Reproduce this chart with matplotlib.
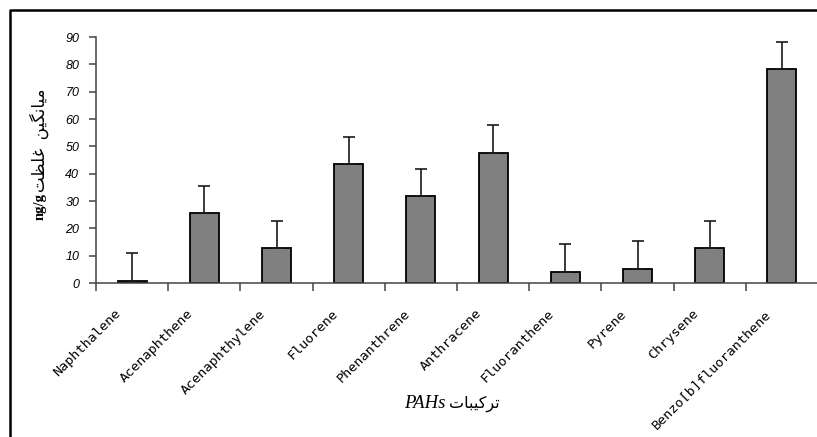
import matplotlib
matplotlib.use("Agg")
import matplotlib.pyplot as plt
from matplotlib.lines import Line2D
from matplotlib.transforms import ScaledTranslation
import numpy as np

# ---- data ----
compounds = ["Naphthalene", "Acenaphthene", "Acenaphthylene", "Fluorene",
             "Phenanthrene", "Anthracene", "Fluoranthene", "Pyrene",
             "Chrysene", "Benzo[b]fluoranthene"]
means = [0.6, 25.5, 12.9, 43.6, 32.0, 47.6, 4.0, 5.0, 12.9, 78.4]
errors = [10.4, 10.1, 9.7, 9.8, 9.7, 10.3, 10.2, 10.2, 9.7, 9.8]
yticks = [0, 10, 20, 30, 40, 50, 60, 70, 80, 90]
ylabel_fa = "میانگین غلظت"
ylabel_unit = "ng/g"
xlabel_fa = "ترکیبات"
xlabel_en = "PAHs"

# ---- minimal Arabic/Persian shaping (presentation forms) ----
FORMS = {
    "\u0645": ("\uFEE1", "\uFEE2", "\uFEE3", "\uFEE4"),
    "\u06CC": ("\uFBFC", "\uFBFD", "\uFBFE", "\uFBFF"),
    "\u0627": ("\uFE8D", "\uFE8E"),
    "\u0646": ("\uFEE5", "\uFEE6", "\uFEE7", "\uFEE8"),
    "\u06AF": ("\uFB92", "\uFB93", "\uFB94", "\uFB95"),
    "\u063A": ("\uFECD", "\uFECE", "\uFECF", "\uFED0"),
    "\u0644": ("\uFEDD", "\uFEDE", "\uFEDF", "\uFEE0"),
    "\u0638": ("\uFEC5", "\uFEC6", "\uFEC7", "\uFEC8"),
    "\u062A": ("\uFE95", "\uFE96", "\uFE97", "\uFE98"),
    "\u0631": ("\uFEAD", "\uFEAE"),
    "\u06A9": ("\uFB8E", "\uFB8F", "\uFB90", "\uFB91"),
    "\u0628": ("\uFE8F", "\uFE90", "\uFE91", "\uFE92"),
}


def shape_word(w):
    out = []
    for i, c in enumerate(w):
        f = FORMS.get(c)
        if f is None:
            out.append(c)
            continue
        prev = w[i - 1] if i > 0 else None
        nxt = w[i + 1] if i + 1 < len(w) else None
        jp = prev is not None and prev in FORMS and len(FORMS[prev]) == 4
        jn = len(f) == 4 and nxt is not None and nxt in FORMS
        if jp and jn:
            out.append(f[3])
        elif jp:
            out.append(f[1])
        elif jn:
            out.append(f[2])
        else:
            out.append(f[0])
    return "".join(reversed(out))


def visual_rtl(s):
    return "  ".join(shape_word(w) for w in reversed(s.split(" ")))


W, H = 817, 437
fig = plt.figure(figsize=(W / 100, H / 100), dpi=100)
fig.patch.set_facecolor("white")


def fx(x):
    return x / W


def fy(y):
    return 1 - y / H


x0, x1, ytop, ybot = 96, 818, 37, 283
ax = fig.add_axes([fx(x0), fy(ybot), (x1 - x0) / W, (ybot - ytop) / H])

n = len(compounds)
centers = np.arange(n) + 0.5
ax.bar(centers, means, width=0.4, color="#808080", edgecolor="black",
       linewidth=1.3, zorder=2)
ax.errorbar(centers, means, yerr=[np.zeros(n), errors], fmt="none",
            ecolor="#1a1a1a", elinewidth=1.2, capsize=4.5, capthick=1.2,
            zorder=3)

ax.set_xlim(0, n)
ax.set_ylim(0, 90)
ax.set_yticks(yticks)
ax.set_yticklabels([str(v) for v in yticks], fontfamily="Liberation Sans",
                   fontstyle="italic", fontsize=9)
ax.tick_params(axis="y", direction="out", length=5, width=1.1,
               color="#444444", pad=7)

ax.set_xticks(np.arange(n + 1))
ax.set_xticklabels([])
ax.tick_params(axis="x", which="major", direction="out", length=6,
               width=1.1, color="#444444")
ax.set_xticks(centers, minor=True)
ax.set_xticklabels(compounds, minor=True, rotation=45, ha="right",
                   va="center", rotation_mode="anchor",
                   fontfamily="DejaVu Sans Mono", fontsize=9.7)
ax.tick_params(axis="x", which="minor", length=0, pad=20.5)
off = ScaledTranslation(-13 / 100, 0, fig.dpi_scale_trans)
for lab in ax.get_xticklabels(minor=True):
    lab.set_transform(lab.get_transform() + off)

for s in ("top", "right"):
    ax.spines[s].set_visible(False)
for s in ("left", "bottom"):
    ax.spines[s].set_color("#444444")
    ax.spines[s].set_linewidth(1.1)

# y label (rotated): unit at bottom, Persian text above
fam = ["Liberation Serif", "DejaVu Sans"]
fig.text(fx(40), fy(220), ylabel_unit, rotation=90, ha="center", va="bottom",
         fontfamily="Liberation Serif", fontweight="bold", fontsize=10.5)
fig.text(fx(39), fy(192), visual_rtl(ylabel_fa), rotation=90, ha="center",
         va="bottom", fontfamily=fam, fontsize=12)

# x label: italic PAHs on left, Persian word on right
fig.text(fx(445), fy(403), xlabel_en, ha="right", va="center",
         fontfamily="Liberation Serif", fontstyle="italic", fontsize=13.5)
fig.text(fx(449), fy(404), visual_rtl(xlabel_fa), ha="left", va="center",
         fontfamily=fam, fontsize=11.5)

# outer frame (top and left visible, rest clipped)
fig.add_artist(Line2D([fx(10), fx(10), 1.05], [-0.05, fy(10), fy(10)],
                      transform=fig.transFigure, color="black", lw=1.8))

fig.savefig("out.png", dpi=100)
